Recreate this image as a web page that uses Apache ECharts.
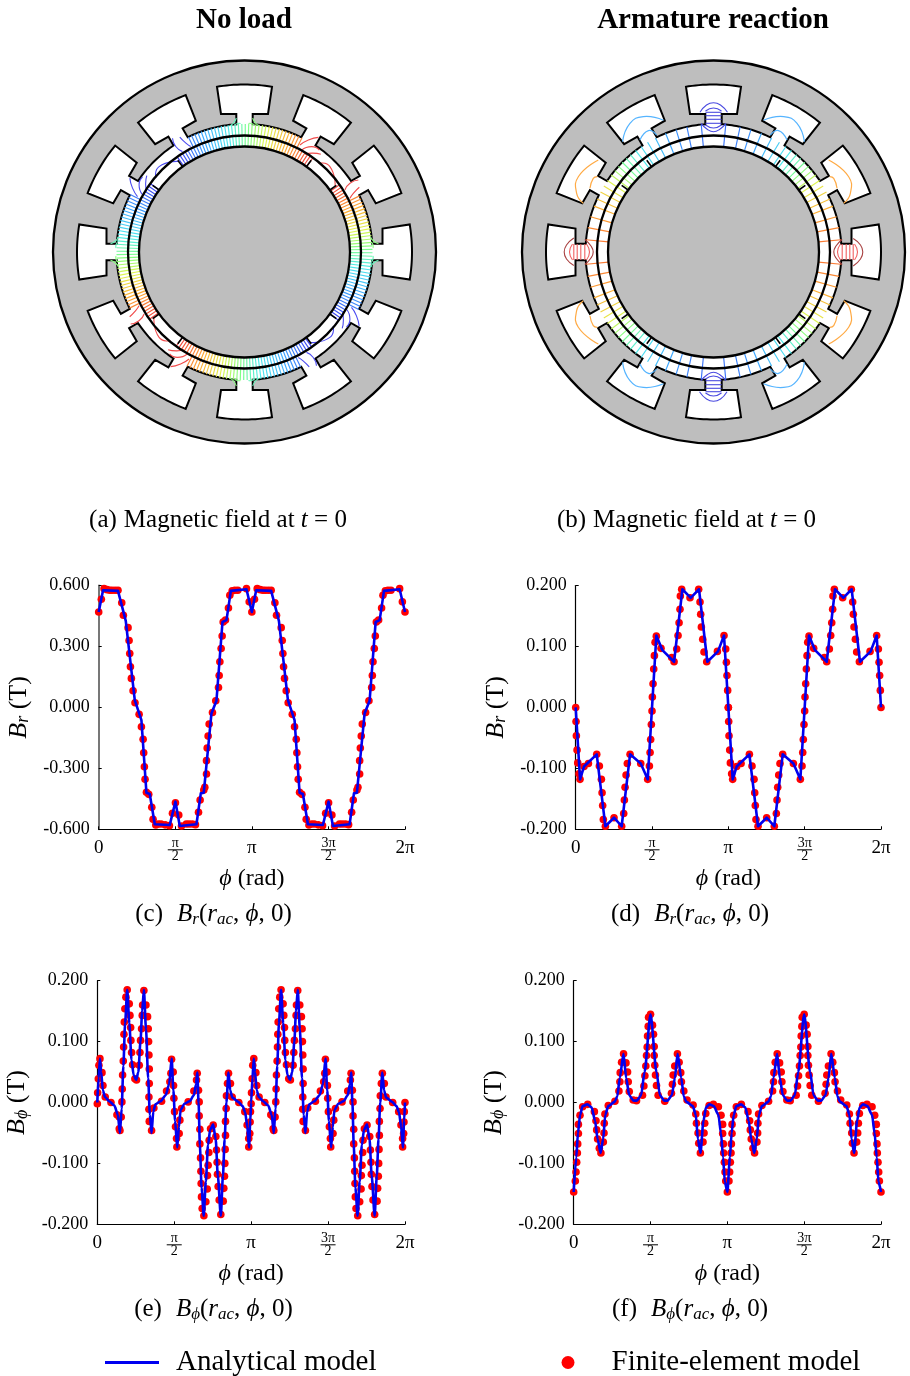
<!DOCTYPE html>
<html><head><meta charset="utf-8">
<style>html,body{margin:0;padding:0;background:#fff}#c{width:910px;height:1376px}</style>
<script src="https://cdn.jsdelivr.net/npm/echarts@6/dist/echarts.min.js"></script>
</head><body><div id="c"></div>
<script>
// ---------- tick labels ----------
const piTicks = ['0', 'π/2', 'π', '3π/2', '2π'];

// ---------- (c) Br no load, half period (repeats every π), phi in degrees ----------
const cMarkPhi = [0,3.1,6.3,9.8,13,15.7,19.2,22.7,27.1,29,34.5,35.7,36.5,37.3,38.4,40.4,42.7,47.5,50.2,52.2,52.9,53.7,54.5,56.1,58.8,62.4,63.9,67.1,70,73.3,78,83.1,86.7,90.2,94.1,97.3,103,106.3,110,113.7,117.3,119.2,123.5,124.7,126.7,126.7,127.5,128.6,129.8,133.7,137.6,140.8,141.6,142.4,143.9,145.1,146.3,149,152.5,154.1,156.9,160,163.5,173.7,176.9];
const cMarkB = [.47,.533,.585,.58,.577,.577,.577,.577,.515,.454,.393,.33,.266,.2,.143,.082,.023,-.034,-.095,-.157,-.223,-.292,-.354,-.418,-.428,-.492,-.551,-.579,-.574,-.574,-.578,-.582,-.521,-.469,-.53,-.584,-.574,-.574,-.574,-.577,-.516,-.456,-.407,-.393,-.328,-.262,-.2,-.141,-.082,-.025,.033,.098,.157,.225,.29,.352,.421,.43,.49,.552,.574,.577,.577,.585,.52];
const cLinePhi = [0,5.1,22.7,31.8,33.7,42.4,50.2,56.1,60,65.9,83.5,90.2,95.3,114.9,120,123.5,132.5,138.4,145.5,150.2,155.3,173.7];
const cLineB = [.47,.577,.574,.426,.421,.036,-.062,-.42,-.426,-.575,-.579,-.464,-.584,-.575,-.423,-.42,-.03,.033,.421,.43,.574,.582];
const cEnd = .47;

// ---------- (d) Br armature reaction ----------
const dMarkPhi = [0,.4,.8,1.6,2.4,3.9,5.1,9.8,15,24.8,27.9,30.3,31.1,31.8,32.6,35,45.2,54.2,56.6,57.4,58.2,59.4,60.9,64.1,76.7,84.9,86.9,87.7,88.4,89.2,90,90.4,91.2,92,92.8,93.6,95.1,100.6,113.2,116,119.1,120.7,121.9,123,123.4,125,134.8,145,146.6,147.4,148.2,149.8,151.3,154.5,167.1,174.9,176.9,177.7,178.4,179.2];
const dMarkB = [0,-.023,-.0465,-.07,-.091,-.109,-.118,-.097,-.092,-.077,-.096,-.118,-.14,-.161,-.184,-.195,-.181,-.195,-.174,-.152,-.131,-.111,-.092,-.077,-.092,-.118,-.096,-.074,-.0525,-.028,-.006,.017,.039,.063,.085,.107,.117,.097,.082,.075,.096,.118,.139,.161,.183,.194,.18,.194,.173,.153,.132,.112,.091,.075,.092,.118,.096,.074,.0525,.028];
const dLinePhi = [0,5.1,9.8,24.8,35,45.2,54.2,64.1,76.7,84.9,95.1,102.2,116,125.8,135.6,145.4,155.2,167.8,174.9];
const dLineB = [0,-.118,-.097,-.077,-.195,-.181,-.195,-.077,-.092,-.118,.118,.094,.075,.194,.18,.194,.075,.092,.118];
const dEnd = 0;

// ---------- (e) Bphi no load ----------
const eMarkPhi = [0,.4,1.2,1.9,3.1,5.5,6.6,9.3,16,23,25.7,25.7,26.5,28,28.8,29.2,29.6,30.4,30.8,31.2,31.6,32.3,33.5,35,37.4,38.2,39,39.3,40.1,41.3,44,45.9,49.1,49.9,50.6,51.8,52.6,53,54.5,56.9,58.8,59.6,60,60.4,60.8,60.8,60.4,60.4,60.8,63.5,66.2,75.2,81,84.9,86.1,86.9,88.8,89.2,89.6,90.4,91.5,92.7,93.1,95.8,96.6,98.6,106.3,113,116.1,116.9,118.4,119.2,119.2,120,120,120.8,121.2,121.5,121.9,122.7,124.7,127,128.6,128.9,129.7,130.5,130.9,132.5,135.6,138.7,139.5,140.2,140.6,141.4,142.6,144.5,147.3,148,148.8,149.2,149.6,150,150,150.8,151.1,152.3,153.5,155.8,157.8,165.6,172.6,175.3,177.2,177.2,178.4,178.8,179.2];
const eMarkB = [-.002,.016,.039,.061,.072,.049,.028,.009,0,-.02,-.024,-.043,-.046,-.024,.001,.022,.045,.068,.091,.112,.132,.154,.173,.185,.162,.143,.123,.102,.082,.062,.039,.037,.061,.082,.102,.121,.143,.16,.184,.16,.141,.121,.1,.078,.055,.031,.009,-.011,-.031,-.046,-.009,.002,.019,.034,.048,.071,.05,.028,.007,-.015,-.04,-.059,-.073,-.051,-.029,-.01,.001,.019,.037,.048,.02,.001,-.022,-.044,-.068,-.091,-.113,-.133,-.155,-.174,-.186,-.163,-.142,-.12,-.103,-.082,-.062,-.043,-.037,-.056,-.078,-.098,-.118,-.138,-.16,-.184,-.162,-.141,-.121,-.1,-.077,-.054,-.031,-.01,.011,.031,.048,.031,.009,0,-.015,-.037,-.059,-.073,-.051,-.032,-.015];
const eLinePhi = [0,1.5,3.1,4.5,6.5,9,14,20,24,26.5,28.5,30.5,32.5,35,37.5,40,42.5,45.5,48,50.5,52.5,54.5,57,59.5,61.5,63.5,65.5,68,74,80,84,87,89,91,93.5,95.5,97.5,102,108,113,115.5,117,118.5,120,122,124.5,127,129.5,132,135.5,138.5,141,144.5,147,149,151,153.5,155.5,158,165,170,173,175.5,177.5,179];
const eLineB = [0,.04,.072,.05,.02,.009,.002,-.005,-.02,-.05,-.01,.06,.13,.185,.13,.07,.045,.037,.05,.1,.15,.185,.12,.04,-.02,-.05,-.015,-.003,.002,.012,.03,.072,.02,-.03,-.074,-.04,-.012,-.002,.002,.012,.03,.049,0,-.07,-.14,-.186,-.13,-.07,-.045,-.036,-.06,-.12,-.186,-.12,-.06,0,.049,.02,.008,.001,-.006,-.016,-.04,-.074,-.03];
const eEnd = 0;

// ---------- (f) Bphi armature reaction ----------
const fMarkPhi = [0,1.9,2.7,3.5,4.3,4.7,5.5,5.5,7.4,10.5,16.4,24.2,26.1,26.9,28,30,31.9,34.7,35.5,35.8,36.6,40.5,48.3,53,54.1,54.5,56.1,58.4,61.2,63.1,63.9,65.1,69.7,73.6,80.6,82.2,83.4,84.5,85.3,86.1,86.5,87.3,87.7,90,92.3,93.5,94.3,94.3,95,95.8,97,98.9,106.7,114.5,115.7,116.5,118.4,121.5,123.5,125.4,126.2,129,132.8,139.9,143,143.8,145.7,146.5,148.4,151.5,152.7,153.5,154.7,158.6,163.6,169.5,172.6,174.5,174.5,175.3,175.7,176.5,177.3,178.1];
const fMarkB = [-.147,-.129,-.114,-.098,-.083,-.068,-.051,-.036,-.021,-.007,-.003,-.015,-.03,-.045,-.06,-.075,-.083,-.065,-.05,-.034,-.019,-.005,.002,.019,.034,.049,.066,.08,.065,.05,.034,.018,.004,.003,.012,.027,.044,.06,.077,.091,.109,.125,.14,.145,.127,.112,.092,.077,.061,.045,.028,.012,.002,.015,.03,.045,.06,.08,.066,.049,.034,.019,.004,-.004,-.019,-.034,-.05,-.067,-.083,-.065,-.05,-.034,-.018,-.005,-.003,-.007,-.021,-.036,-.051,-.068,-.083,-.098,-.114,-.129];
const fLinePhi = [0,3,5,7.5,10.5,16,21,25,28,31.5,34.5,37,40.5,48,51,54,58.3,61.5,65,70,74,79,83,90,97,101,106,110,115,118.5,121.7,126,129,132,139.5,143,145.5,148.5,152,155,159,164,169.5,172.5,175,177];
const fLineB = [-.147,-.09,-.05,-.02,-.006,-.003,-.008,-.03,-.06,-.083,-.06,-.02,-.006,.001,.01,.04,.08,.04,.012,.003,.003,.012,.05,.145,.05,.012,.003,.003,.012,.04,.08,.04,.01,.001,-.006,-.02,-.06,-.083,-.03,-.008,-.003,-.006,-.02,-.05,-.09,-.13];
const fEnd = -.147;

// ---------- motor geometry (px-like model units, centre at 0,0) ----------
const motorExtent = 195;
const outerRadius = 191.5, slotTopRadius = 167.5, slotBottomN = 138, boreRadius = 128, midRadius = 116.5, rotorRadius = 105.5;
const slotCentres = [0,30,60,90,120,150,180,210,240,270,300,330];
const slotHalfAngle = 9.45, slotBottomHalfWidth = 23.5, neckHalfWidth = 8.2;
const polePitch = [0,90,180,270];
const magnetGapMarks = [36,54];             // small black marks in the inner ring
// no load: radial contours around each pole
const noLoadStep = 1.55, noLoadInnerSpan = 36, noLoadOuterSpan = 27.5;
// [r, phi] curves near the inter-pole region around 45 deg
const noLoadLoops = [
  [[120.5,62.6],[128.9,60.3],[136.4,57.2]],
  [[117,60.7],[125,57.5],[126.5,53.7]],
  [[115,58.3],[120,55.5],[124,52]],
  [[115.4,50.2],[120.8,45],[111.6,35.8]],
  [[134.7,32.3],[125.9,33.1],[118,31.7]],
  [[131.8,29.4],[123.6,28.3],[118.4,27]]
];
// neck flare curves on pole-centred slots [t, n]
const noLoadNeckFlares = [
  [[-15,126],[-11,129],[-8.2,134]],
  [[-10,127],[-7,128.5],[-4,128.5]]
];
// armature reaction: contour offsets from the top axis (deg)
const armatureOffsets = [5.5,12,17,22,27,31,34.5,37.5,40.5,43,45.5,48,50.5,53,56,59,62,65.5,69,74,79,84.5];
// local [t, n] shapes in necks
const neckBars = [139.7,136.3,132.7,128.7];
const neckArcs = [
  [[-14,139.7],[-7,147],[0,149.3],[7,147],[13.5,139.7]],
  [[-8,141],[0,144],[8,141]],
  [[-12.5,128.7],[-6,122.5],[0,120.3],[6,122.5],[12.5,128.7]],
  [[-8,127],[0,124],[8,127]]
];
// [offset deg from slot centre, r]
const coolSlotArc = [[9.5,143],[3,153.4],[-2.6,152.5],[-9.2,141]];
const coolNeckArc = [[3.3,134],[-1.8,137.7],[-4.1,130]];
const warmSlotArc = [[-8.6,147.4],[.9,154.7],[6.8,148.9],[9.5,139]];
const warmNeckArc = [[2.7,139],[-1.5,141],[-3,138.5]];
const rainbow = [[-1,[60,60,240]],[-.55,[60,170,255]],[-.2,[80,235,235]],[.05,[125,255,135]],[.3,[225,245,80]],[.6,[255,170,50]],[1,[240,60,60]]];

function rainbowColour(u){
  u = Math.max(-1,Math.min(1,u));
  for(let i=1;i<rainbow.length;i++){
    if(u<=rainbow[i][0]){
      const a=rainbow[i-1],b=rainbow[i],k=(u-a[0])/(b[0]-a[0]);
      return 'rgb('+a[1].map((c,j)=>Math.round(c+(b[1][j]-c)*k)).join(',')+')';
    }
  }
  return 'rgb(240,60,60)';
}
const rad = d => d*Math.PI/180;
function polar(api,r,deg){ return api.coord([r*Math.cos(rad(deg)), r*Math.sin(rad(deg))]); }
function local(api,t,n,theta){
  const c=Math.cos(rad(theta)),s=Math.sin(rad(theta));
  return api.coord([n*c - t*s, n*s + t*c]);
}
function boreOutline(api){
  const pts=[];
  const a=Math.asin(neckHalfWidth/boreRadius)*180/Math.PI;
  slotCentres.forEach(th=>{
    pts.push(polar(api,boreRadius,th-a));
    pts.push(local(api,-neckHalfWidth,slotBottomN,th));
    pts.push(local(api,-slotBottomHalfWidth,slotBottomN,th));
    for(let d=-slotHalfAngle;d<slotHalfAngle;d+=1.2) pts.push(polar(api,slotTopRadius,th+d));
    pts.push(polar(api,slotTopRadius,th+slotHalfAngle));
    pts.push(local(api,slotBottomHalfWidth,slotBottomN,th));
    pts.push(local(api,neckHalfWidth,slotBottomN,th));
    pts.push(polar(api,boreRadius,th+a));
    for(let d=th+a+1;d<th+30-a;d+=1) pts.push(polar(api,boreRadius,d));
  });
  return pts;
}
function line(points,stroke,w,smooth){
  return {type:'polyline',shape:{points,smooth:smooth||0},style:{stroke,lineWidth:w||1.15,fill:'none'},silent:true};
}
function motorBase(api){
  const c=api.coord([0,0]);
  const rpx=r=>Math.abs(api.size([r,0])[0]);
  return {
    c,rpx,
    back:[
      {type:'circle',shape:{cx:c[0],cy:c[1],r:rpx(outerRadius)},style:{fill:'#bebebe',stroke:'#000',lineWidth:2.3}},
      {type:'polygon',shape:{points:boreOutline(api)},style:{fill:'#fff',stroke:'#000',lineWidth:2}}
    ],
    front:[
      {type:'circle',shape:{cx:c[0],cy:c[1],r:rpx(midRadius)},style:{fill:'none',stroke:'#000',lineWidth:2.3}},
      {type:'circle',shape:{cx:c[0],cy:c[1],r:rpx(rotorRadius)},style:{fill:'#bebebe',stroke:'#000',lineWidth:2.3}}
    ]
  };
}
function magnetMarks(api){
  const out=[];
  polePitch.forEach(p=>magnetGapMarks.forEach(m=>out.push(line([polar(api,rotorRadius,p+m),polar(api,midRadius-3,p+m)],'#000',1.6))));
  return out;
}
function renderNoLoad(params,api){
  const b=motorBase(api), kids=[];
  polePitch.forEach((p,i)=>{
    const sign=i%2?-1:1;
    for(let o=-noLoadInnerSpan;o<=noLoadInnerSpan+.01;o+=noLoadStep){
      const col=rainbowColour(sign*o/noLoadInnerSpan);
      const phi=p+o;
      if(Math.abs(o)<=noLoadOuterSpan) kids.push(line([polar(api,rotorRadius,phi),polar(api,boreRadius,phi)],col));
      else kids.push(line([polar(api,rotorRadius,phi),polar(api,midRadius,phi)],col));
    }
    noLoadLoops.forEach(l=>{
      kids.push(line(l.map(q=>polar(api,q[0],q[1]+p)),i%2?'#4a4af0':'#f04a4a',1.1,.6));
    });
    noLoadNeckFlares.forEach(l=>{
      [1,-1].forEach(s=>{
        kids.push(line(l.map(q=>local(api,s*q[0],q[1],p)),rainbowColour(sign*s*-.08),1.1,.6));
      });
    });
  });
  return {type:'group',children:b.back.concat(kids,magnetMarks(api),b.front)};
}
function renderArmature(params,api){
  const b=motorBase(api), kids=[];
  [90,270].forEach(axis=>[1,-1].forEach(s=>armatureOffsets.forEach(o=>{
    const phi=axis+s*o, u=-Math.cos(rad(2*o))*.78;
    kids.push(line([polar(api,rotorRadius,phi),polar(api,boreRadius,phi)],rainbowColour(u)));
  })));
  [[90,'#4a4ae0','#4a4ae0'],[270,'#4a4ae0','#4a4ae0'],[0,'#f06060','#a84040'],[180,'#f06060','#a84040']].forEach(q=>{
    neckBars.forEach(n=>kids.push(line([local(api,-8,n,q[0]),local(api,8,n,q[0])],q[1],1.1)));
    neckArcs.forEach((a,i)=>kids.push(line(a.map(v=>local(api,v[0],v[1],q[0])),i===0||i===2?q[2]:q[1],1.1,.5)));
  });
  [[120,1],[300,1],[60,-1],[240,-1]].forEach(q=>{
    [coolSlotArc,coolNeckArc].forEach(a=>kids.push(line(a.map(v=>polar(api,v[1],q[0]+q[1]*v[0])),'#55b4ff',1.2,.5)));
  });
  [[150,1],[330,1],[30,-1],[210,-1]].forEach(q=>{
    [warmSlotArc,warmNeckArc].forEach(a=>kids.push(line(a.map(v=>polar(api,v[1],q[0]+q[1]*v[0])),'#ffaa44',1.2,.5)));
  });
  return {type:'group',children:b.back.concat(kids,magnetMarks(api),b.front)};
}

// ---------- chart ----------
const serif='"Liberation Serif","Times New Roman",serif';
const zip=(p,v)=>p.map((x,i)=>[x,v[i]]);
function twoPeriods(p,v,end){
  const a=zip(p,v);
  return a.concat(a.map(q=>[q[0]+180,q[1]]),[[360,end]]);
}
const panels=[
 {left:98.7,w:306.3,top:585.6,h:243.7,min:-.6,step:.3,marks:twoPeriods(cMarkPhi,cMarkB,cEnd),curve:twoPeriods(cLinePhi,cLineB,cEnd),sym:'r',smooth:0,axis:['#777',2]},
 {left:575.7,w:305.3,top:585.6,h:243.7,min:-.2,step:.1,marks:twoPeriods(dMarkPhi,dMarkB,dEnd).concat([[180,0]]),curve:twoPeriods(dLinePhi,dLineB,dEnd),sym:'r',smooth:0,axis:['#000',1.2]},
 {left:97.3,w:307.7,top:980.7,h:243.6,min:-.2,step:.1,marks:twoPeriods(eMarkPhi,eMarkB,eEnd),curve:twoPeriods(eLinePhi,eLineB,eEnd),sym:'ϕ',smooth:.25,axis:['#000',1.2]},
 {left:573.7,w:307.3,top:980.7,h:243.6,min:-.2,step:.1,marks:twoPeriods(fMarkPhi,fMarkB,fEnd),curve:twoPeriods(fLinePhi,fLineB,fEnd),sym:'ϕ',smooth:.25,axis:['#000',1.2]}
];
const grids=[],xAxes=[],yAxes=[],series=[];
const richBase={
  i:{fontFamily:serif,fontStyle:'italic',fontSize:26,lineHeight:28},
  s:{fontFamily:serif,fontStyle:'italic',fontSize:18,lineHeight:18,verticalAlign:'bottom'}
};
panels.forEach((p,i)=>{
  grids.push({left:p.left,top:p.top,width:p.w,height:p.h});
  xAxes.push({type:'value',gridIndex:i,min:0,max:360,interval:90,
    name:'{i|ϕ} (rad)',nameLocation:'middle',nameGap:37,
    nameTextStyle:{fontFamily:serif,fontSize:24,color:'#000',rich:{i:{fontFamily:serif,fontStyle:'italic',fontSize:24}}},
    axisLine:{onZero:false,lineStyle:{color:'#000',width:1.2}},
    axisTick:{inside:true,length:3,lineStyle:{color:'#000',width:1}},
    splitLine:{show:false},
    axisLabel:{margin:8,showMinLabel:true,showMaxLabel:true,hideOverlap:false,color:'#000',fontFamily:serif,
      formatter:v=>{
        const t=piTicks[Math.round(v/90)];
        if(t.includes('/')){const a=t.split('/');return '{n|'+a[0]+'}\n{l| }\n{d|'+a[1]+'}';}
        return '{p|'+t+'}';
      },
      rich:{
        p:{fontFamily:serif,fontSize:19,color:'#000',padding:[4,0,0,0],lineHeight:18},
        n:{fontFamily:serif,fontSize:14,color:'#000',lineHeight:12},
        d:{fontFamily:serif,fontSize:14,color:'#000',lineHeight:13},
        l:{fontSize:1,lineHeight:1,height:1,width:15,backgroundColor:'#000'}
      }}
  });
  yAxes.push({type:'value',gridIndex:i,min:p.min,max:-p.min,interval:p.step,
    name:'{i|B}{s|'+p.sym+'} (T)',nameLocation:'middle',nameGap:66,
    nameTextStyle:{fontFamily:serif,fontSize:26,color:'#000',rich:richBase},
    axisLine:{onZero:false,lineStyle:{color:p.axis[0],width:p.axis[1]}},
    axisTick:{inside:true,length:3,lineStyle:{color:'#000',width:1}},
    splitLine:{show:false},
    axisLabel:{margin:9,hideOverlap:false,color:'#000',fontFamily:serif,fontSize:18,formatter:v=>v.toFixed(3)}
  });
  series.push({name:'Finite-element model',type:'scatter',xAxisIndex:i,yAxisIndex:i,data:p.marks,symbol:'circle',symbolSize:7.6,clip:false,silent:true,itemStyle:{color:'#f00',opacity:1},z:3});
  series.push({name:'Analytical model',type:'line',xAxisIndex:i,yAxisIndex:i,data:p.curve,showSymbol:false,symbol:'none',clip:false,silent:true,smooth:p.smooth,smoothMonotone:p.smooth?'x':undefined,lineStyle:{color:'#0000f0',width:2.6,join:'round'},itemStyle:{color:'#0000f0'},z:4});
});
// motor grids
[[244.5,renderNoLoad],[713.5,renderArmature]].forEach((m,k)=>{
  const i=panels.length+k;
  grids.push({left:m[0]-motorExtent,top:252-motorExtent,width:2*motorExtent,height:2*motorExtent});
  xAxes.push({type:'value',gridIndex:i,min:-motorExtent,max:motorExtent,show:false});
  yAxes.push({type:'value',gridIndex:i,min:-motorExtent,max:motorExtent,show:false});
  series.push({type:'custom',xAxisIndex:i,yAxisIndex:i,data:[[0,0]],renderItem:m[1],clip:false,silent:true,z:2});
});
function caption(text,cx,top){
  return {text,left:cx,top,textAlign:'center',textStyle:{fontFamily:serif,fontWeight:'normal',fontSize:25,color:'#000',
    rich:{
      t:{fontFamily:serif,fontSize:25,color:'#000',lineHeight:27},
      g:{fontFamily:serif,fontSize:28,color:'#000',lineHeight:27},
      i:{fontFamily:serif,fontStyle:'italic',fontSize:25,lineHeight:27,color:'#000'},
      s:{fontFamily:serif,fontStyle:'italic',fontSize:17,lineHeight:17,verticalAlign:'bottom',color:'#000'}
    }}};
}
function heading(text,cx){
  return {text,left:cx,top:1,textAlign:'center',textStyle:{fontFamily:serif,fontWeight:'bold',fontSize:29,color:'#000'}};
}
const option={
  animation:false,backgroundColor:'#fff',
  title:[
    heading('No load',239),heading('Armature reaction',708),
    caption('{t|(a)}{g| }{t|Magnetic field at }{i|t}{t| = 0}',213,502),
    caption('{t|(b)}{g| }{t|Magnetic field at }{i|t}{t| = 0}',681.5,502),
    caption('{t|(c)}{g|  }{i|B}{s|r}{t|(}{i|r}{s|ac}{t|, }{i|ϕ}{t|, 0)}',208.5,896),
    caption('{t|(d)}{g|  }{i|B}{s|r}{t|(}{i|r}{s|ac}{t|, }{i|ϕ}{t|, 0)}',685,896),
    caption('{t|(e)}{g|  }{i|B}{s|ϕ}{t|(}{i|r}{s|ac}{t|, }{i|ϕ}{t|, 0)}',208.5,1291),
    caption('{t|(f)}{g|  }{i|B}{s|ϕ}{t|(}{i|r}{s|ac}{t|, }{i|ϕ}{t|, 0)}',685,1291)
  ],
  legend:[
    {data:[{name:'Analytical model',icon:'rect'}],left:100,top:1343,itemWidth:54,itemHeight:3,itemGap:17,selectedMode:false,
      textStyle:{fontFamily:serif,fontSize:29,color:'#000',padding:[0,0,10,12]}},
    {data:[{name:'Finite-element model',icon:'circle'}],left:556.5,top:1343,itemWidth:13,itemHeight:13,selectedMode:false,
      textStyle:{fontFamily:serif,fontSize:29,color:'#000',padding:[0,0,10,32]}}
  ],
  grid:grids,xAxis:xAxes,yAxis:yAxes,series
};
echarts.init(document.getElementById('c'),null,{renderer:'canvas'}).setOption(option);
</script>
</body></html>
